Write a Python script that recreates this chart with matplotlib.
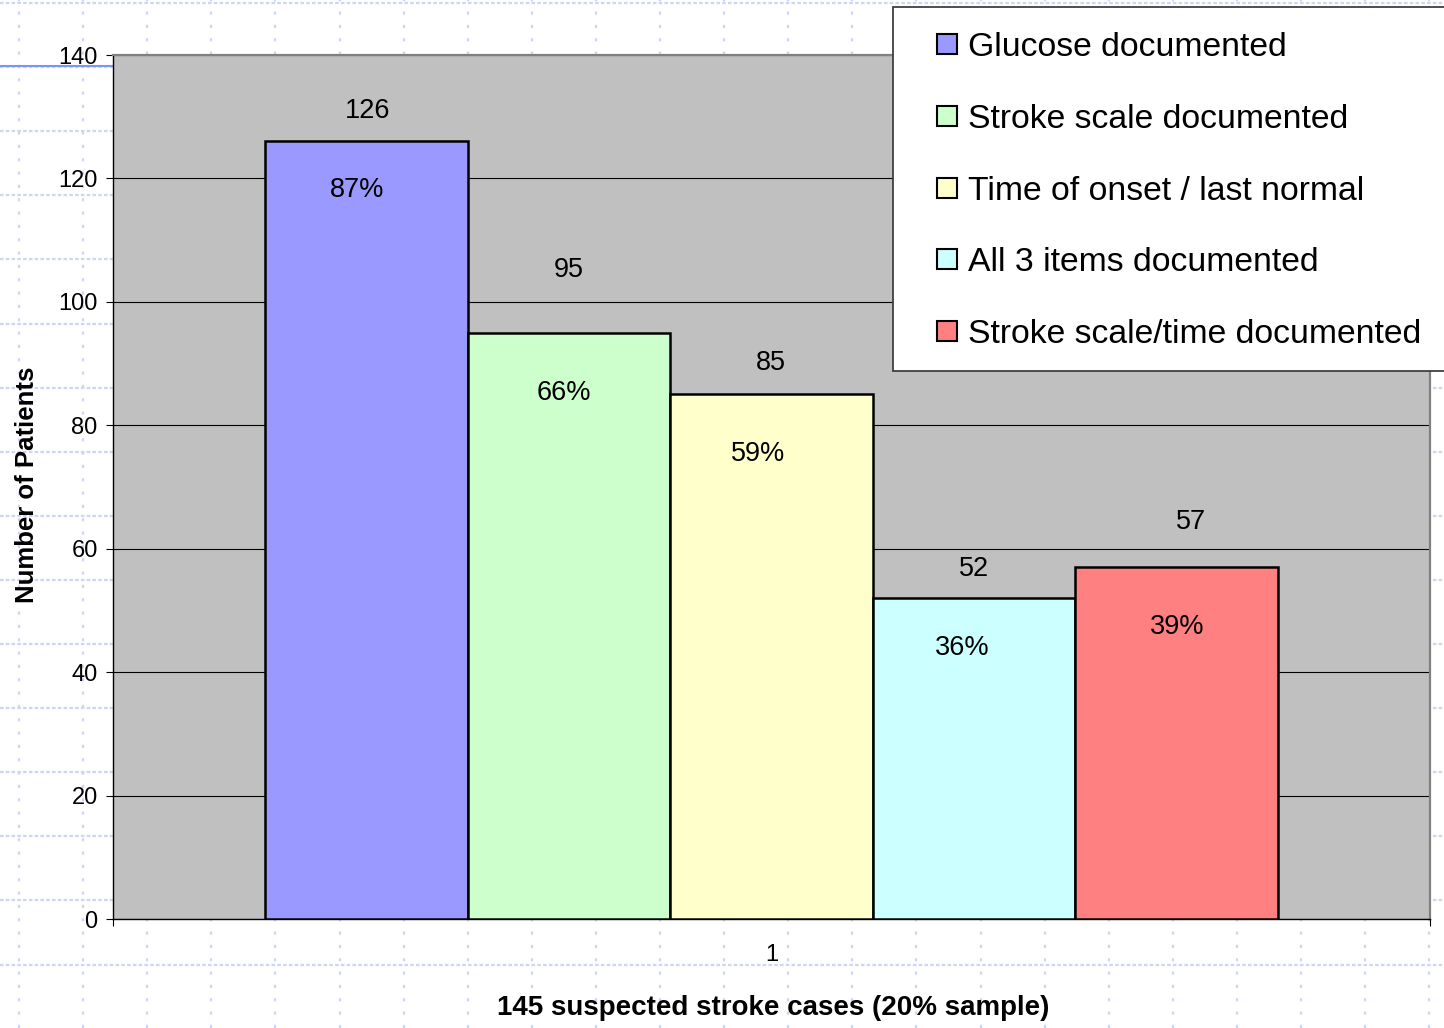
import matplotlib
matplotlib.use("Agg")
import matplotlib.pyplot as plt
from matplotlib.lines import Line2D
from matplotlib.patches import Rectangle
import numpy as np

# ---- data -------------------------------------------------------------
series_names = [
    "Glucose documented",
    "Stroke scale documented",
    "Time of onset / last normal",
    "All 3 items documented",
    "Stroke scale/time documented",
]
patient_counts = [126, 95, 85, 52, 57]
percent_labels = ["87%", "66%", "59%", "36%", "39%"]
category_labels = ["1"]
y_ticks = [0, 20, 40, 60, 80, 100, 120, 140]

# ---- styling ----------------------------------------------------------
bar_colors = ["#9999FF", "#CCFFCC", "#FFFFCC", "#CCFFFF", "#FF8080"]
# label nudges in pixels (dx, dy) relative to the top of each bar
value_label_shift = [(1.5, 33), (0, 66), (-1, 34), (0, 32), (14.5, 48)]
pct_label_shift = [(-9.5, -46), (-5, -57), (-13, -57), (-12, -47), (0, -57)]

plt.rcParams["font.family"] = ["Liberation Sans", "DejaVu Sans"]

W, H, DPI = 1444, 1028, 100
fig = plt.figure(figsize=(W / DPI, H / DPI), dpi=DPI)
fig.patch.set_facecolor("white")


def fx(px):
    return px / W


def fy(py):
    return 1 - py / H


# slide guide grid behind the chart
grid_color = "#CBD6F6"
step = 64.1
gx = 19.0
while gx < W:
    fig.add_artist(Line2D([fx(gx), fx(gx)], [0, 1], transform=fig.transFigure,
                          color=grid_color, lw=1.6, linestyle=(0, (1.4, 4.6)),
                          zorder=-5))
    gx += step
gy = 3.0
while gy < H:
    fig.add_artist(Line2D([0, 1], [fy(gy), fy(gy)], transform=fig.transFigure,
                          color=grid_color, lw=1.6, linestyle=(0, (1.6, 1.0)),
                          zorder=-5))
    gy += step
fig.add_artist(Line2D([0, fx(113)], [fy(66), fy(66)], transform=fig.transFigure,
                      color="#7B96EE", lw=1.5, zorder=-4))

# ---- plot area --------------------------------------------------------
ax = fig.add_axes([fx(113), fy(919), fx(1430) - fx(113), fy(55) - fy(919)])
ax.set_facecolor("#C0C0C0")
ax.set_xlim(0.5, 1.5)
ax.set_ylim(0, 140)

n = len(patient_counts)
gap_width = 1.5
bar_w = 1.0 / (n + gap_width)
centers = 1 + (np.arange(n) - (n - 1) / 2) * bar_w

for i in range(n):
    ax.bar(centers[i], patient_counts[i], width=bar_w, color=bar_colors[i],
           edgecolor="black", linewidth=1.8, zorder=3, label=series_names[i])
    dx, dy = value_label_shift[i]
    ax.annotate(str(patient_counts[i]), xy=(centers[i], patient_counts[i]),
                xytext=(dx * 0.72, dy * 0.72), textcoords="offset points",
                ha="center", va="center_baseline", fontsize=19.5, zorder=5)
    dx, dy = pct_label_shift[i]
    ax.annotate(percent_labels[i], xy=(centers[i], patient_counts[i]),
                xytext=(dx * 0.72, dy * 0.72), textcoords="offset points",
                ha="center", va="center_baseline", fontsize=19.5, zorder=5)

ax.set_yticks(y_ticks)
ax.yaxis.grid(True, color="black", linewidth=0.8)
ax.set_axisbelow(True)
ax.tick_params(axis="y", direction="out", length=5, width=0.8, pad=6,
               labelsize=17, colors="black")

ax.set_xticks([1])
ax.set_xticklabels(category_labels)
ax.set_xticks([0.5, 1.5], minor=True)
ax.tick_params(axis="x", which="major", length=0, pad=18, labelsize=17)
ax.tick_params(axis="x", which="minor", direction="out", length=5, width=0.8)

for side in ("left", "bottom"):
    ax.spines[side].set_color("black")
    ax.spines[side].set_linewidth(1.0)
for side in ("top", "right"):
    ax.spines[side].set_color("#808080")
    ax.spines[side].set_linewidth(1.6)

# axis titles
fig.text(fx(27), fy(485), "Number of Patients", rotation=90, fontsize=18.5,
         fontweight="bold", ha="center", va="center")
fig.text(fx(773), fy(1008), "145 suspected stroke cases (20% sample)",
         fontsize=20, fontweight="bold", ha="center", va="center")

# ---- legend box -------------------------------------------------------
fig.add_artist(Rectangle((fx(893), fy(371)), fx(1480) - fx(893), fy(7) - fy(371),
                         transform=fig.transFigure, facecolor="white",
                         edgecolor="#404040", lw=1.3, zorder=10))
for i, (name, color) in enumerate(zip(series_names, bar_colors)):
    yc = 44 + i * 71.8
    fig.add_artist(Rectangle((fx(937), fy(yc + 10)), 20 / W, 20 / H,
                             transform=fig.transFigure, facecolor=color,
                             edgecolor="black", lw=1.5, zorder=11))
    fig.text(fx(968), fy(yc), name, fontsize=24.3, ha="left",
             va="center_baseline", zorder=12)

fig.savefig("out.png", dpi=DPI)
